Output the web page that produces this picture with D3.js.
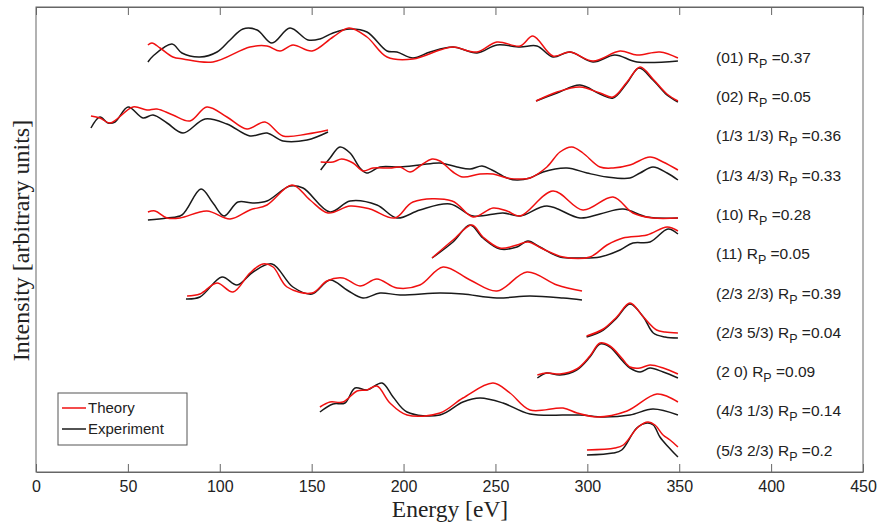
<!DOCTYPE html>
<html>
<head>
<meta charset="utf-8">
<script src="https://cdn.jsdelivr.net/npm/d3@7"></script>
<style>
  body { margin: 0; background: #fff; }
  svg { display: block; }
</style>
</head>
<body>
<svg id="chart" width="879" height="523"></svg>
<script>
// beam labels and R-factors, top to bottom
const beamLabels = ["(01)", "(02)", "(1/3 1/3)", "(1/3 4/3)", "(10)", "(11)",
  "(2/3 2/3)", "(2/3 5/3)", "(2 0)", "(4/3 1/3)", "(5/3 2/3)"];
const rpValues = ["0.37", "0.05", "0.36", "0.33", "0.28", "0.05", "0.39", "0.04", "0.09", "0.14", "0.2"];

const xTicks = [0, 50, 100, 150, 200, 250, 300, 350, 400, 450];

// [energy eV, intensity (arb. units, curves stacked)]
const ex01 = [[60.9,41.0],[63.7,41.6],[74.0,42.8],[79.4,41.9],[89.2,41.5],[98.5,42.0],[105.6,43.2],[112.6,44.3],[120.3,44.2],[128.4,42.9],[138.2,44.4],[148.0,43.2],[154.5,43.3],[161.6,43.9],[170.9,44.3],[180.1,44.0],[191.0,42.1],[196.4,42.0],[205.1,41.4],[214.4,42.0],[226.9,42.5],[240.0,41.9],[250.8,42.7],[263.4,42.5],[272.6,42.6],[281.3,41.5],[290.6,42.0],[303.1,41.0],[315.0,41.7],[327.0,41.0],[349.3,41.1]];
const th01 = [[60.9,42.7],[63.1,42.9],[67.5,42.4],[74.5,41.5],[80.0,41.3],[96.3,41.0],[116.4,42.5],[125.7,42.6],[132.8,42.1],[139.8,42.7],[150.2,42.1],[161.6,43.5],[170.3,44.4],[180.1,43.5],[191.0,41.5],[205.1,41.3],[219.8,42.2],[226.9,42.5],[240.0,42.0],[250.8,43.0],[263.4,42.6],[270.4,43.6],[281.3,41.6],[290.6,42.0],[303.1,41.1],[317.8,42.1],[327.0,41.7],[339.5,42.0],[349.3,41.4]];

const ex02 = [[272.1,37.1],[283.5,37.9],[296.0,38.7],[306.9,37.8],[314.0,37.4],[321.6,38.9],[328.1,40.4],[335.7,39.2],[343.3,37.7],[349.3,37.0]];
const th02 = [[272.1,37.1],[283.5,38.0],[296.0,38.5],[306.9,37.9],[314.0,37.5],[321.6,39.0],[328.7,40.5],[335.7,39.3],[343.3,37.8],[349.3,37.1]];

const ex1313 = [[29.9,34.4],[34.8,35.5],[39.2,34.9],[43.0,35.0],[50.1,36.5],[58.2,35.4],[63.7,35.7],[71.3,34.9],[80.0,33.9],[92.0,35.3],[103.9,34.8],[116.4,33.6],[125.7,33.9],[134.4,33.1],[147.5,33.2],[158.9,34.0]];
const th1313 = [[29.9,35.6],[34.8,35.4],[40.3,34.9],[52.8,36.5],[60.4,36.2],[65.8,36.3],[74.5,35.7],[83.8,35.1],[93.0,36.5],[103.9,35.5],[114.8,34.3],[124.6,35.0],[134.4,33.6],[147.5,33.8],[158.9,34.2]];

const ex1343 = [[154.9,30.2],[160.0,31.4],[165.4,32.5],[170.9,31.9],[176.3,30.4],[179.9,29.9],[187.2,30.5],[198.1,30.5],[208.9,30.7],[219.8,30.9],[229.1,30.5],[236.2,30.3],[242.7,30.6],[248.1,30.2],[256.3,29.4],[261.7,29.2],[268.8,29.4],[275.9,30.0],[288.9,30.4],[299.8,29.9],[310.7,29.5],[323.2,29.4],[328.7,29.9],[335.7,30.5],[343.4,29.9],[349.3,29.2]];
const th1343 = [[154.9,31.0],[161.6,31.0],[166.3,31.3],[172.5,30.9],[177.9,30.1],[183.4,30.4],[192.6,30.4],[198.1,30.5],[203.5,30.0],[208.9,30.6],[215.5,31.3],[219.8,31.1],[226.9,30.0],[232.3,29.5],[241.6,29.8],[248.7,29.8],[256.3,29.4],[263.4,29.3],[268.8,29.4],[278.0,30.5],[285.1,32.0],[291.6,32.5],[297.6,31.9],[306.9,30.5],[314.0,30.4],[323.2,30.7],[334.1,31.5],[341.2,31.0],[349.3,30.2]];

const ex10 = [[60.9,25.2],[71.3,25.4],[79.4,25.7],[89.8,28.3],[96.3,26.9],[102.3,25.6],[109.9,27.0],[118.1,26.9],[125.7,27.1],[138.2,28.6],[145.3,28.4],[160.0,26.0],[170.9,27.1],[185.5,26.7],[196.4,25.4],[208.9,26.2],[225.3,26.8],[237.8,25.6],[254.1,25.9],[263.4,25.6],[278.0,26.6],[296.0,25.4],[306.9,25.8],[319.4,26.3],[332.5,25.5],[349.3,25.4]];
const th10 = [[60.9,26.0],[64.8,26.1],[71.3,25.4],[78.3,25.4],[93.0,26.1],[105.6,25.3],[116.4,26.2],[125.7,26.7],[139.3,28.7],[149.1,27.2],[158.9,25.9],[170.9,26.6],[181.7,26.3],[195.3,25.4],[205.1,27.0],[226.4,27.1],[237.8,25.5],[248.7,26.4],[256.3,26.1],[263.4,25.6],[281.3,28.1],[297.6,26.2],[314.0,27.5],[324.8,25.9],[335.7,25.4],[349.3,25.4]];

const ex11 = [[215.5,21.4],[226.9,23.0],[236.2,24.7],[243.2,23.4],[252.5,22.3],[261.7,22.5],[267.7,23.1],[274.2,22.5],[285.1,21.5],[296.0,21.4],[306.9,21.5],[317.8,22.2],[324.8,22.9],[334.1,23.0],[343.9,24.3],[349.3,23.8]];
const th11 = [[215.5,21.4],[226.9,23.2],[237.2,24.7],[243.2,23.5],[252.5,22.4],[261.7,22.7],[267.7,23.0],[275.9,22.3],[286.8,21.5],[301.4,21.5],[310.7,22.7],[319.4,23.4],[332.5,23.7],[343.4,24.5],[349.3,24.1]];

const ex2323 = [[81.6,17.3],[89.2,17.5],[101.2,19.5],[109.4,18.7],[118.1,20.0],[128.4,20.8],[139.8,18.5],[150.2,17.8],[160.0,19.2],[169.2,18.2],[177.9,17.4],[187.2,17.9],[198.1,17.7],[219.8,17.9],[232.3,17.8],[250.8,17.4],[268.8,17.6],[286.8,17.4],[297.1,17.2]];
const th2323 = [[82.2,17.6],[89.2,17.8],[98.5,18.9],[107.2,18.0],[116.4,19.9],[123.5,20.8],[129.0,20.5],[136.6,18.5],[150.2,17.9],[158.3,19.1],[167.0,19.4],[176.3,18.6],[185.5,19.3],[196.4,18.4],[208.9,18.7],[221.5,20.5],[236.2,19.2],[250.8,18.1],[267.2,20.0],[283.5,18.7],[297.1,18.1]];

const ex2353 = [[299.6,13.5],[308.7,14.2],[316.0,15.4],[323.2,16.8],[330.5,15.5],[335.9,13.9],[342.3,13.5],[349.3,13.4]];
const th2353 = [[299.6,13.6],[308.7,14.3],[316.0,15.5],[323.2,16.9],[330.5,15.5],[337.7,14.2],[342.3,14.0],[349.3,13.9]];

const ex20 = [[272.8,9.4],[277.9,9.9],[285.1,9.7],[294.2,10.2],[301.4,11.5],[306.9,12.8],[312.3,12.5],[318.7,11.2],[323.2,10.4],[328.7,10.0],[334.1,10.4],[341.3,10.0],[349.3,9.4]];
const th20 = [[272.8,9.7],[277.9,9.9],[285.1,9.8],[294.2,10.3],[301.4,11.6],[306.9,12.9],[312.3,12.6],[318.7,11.4],[323.2,10.5],[328.7,10.4],[334.1,10.7],[341.3,10.4],[349.3,9.8]];

const ex4313 = [[154.5,6.0],[161.6,6.8],[168.1,6.9],[173.6,8.4],[180.1,8.2],[188.3,8.9],[194.3,7.5],[201.9,6.0],[219.8,5.7],[232.3,7.0],[241.6,7.4],[254.1,6.9],[268.8,5.8],[296.0,5.7],[308.5,5.5],[323.2,5.7],[335.7,6.3],[349.3,5.7]];
const th4313 = [[154.5,6.5],[160.0,7.0],[167.0,7.0],[174.7,8.1],[180.1,8.2],[185.5,8.6],[192.6,6.9],[201.9,5.7],[219.8,5.9],[232.3,7.4],[248.7,8.9],[257.9,7.9],[268.8,6.2],[286.8,6.4],[294.4,5.9],[305.3,5.5],[321.6,6.1],[337.9,7.8],[349.3,7.0]];

const ex5323 = [[299.8,1.7],[314.0,1.9],[318.7,2.2],[326.9,4.4],[332.5,4.9],[335.9,4.7],[339.5,3.5],[344.1,2.5],[349.3,1.5]];
const th5323 = [[299.8,2.2],[315.0,2.4],[319.6,2.7],[327.7,4.5],[333.0,5.0],[336.8,4.7],[341.2,3.7],[345.0,3.2],[349.3,2.5]];

const theory = [th01, th02, th1313, th1343, th10, th11, th2323, th2353, th20, th4313, th5323];
const experiment = [ex01, ex02, ex1313, ex1343, ex10, ex11, ex2323, ex2353, ex20, ex4313, ex5323];

const svg = d3.select("#chart");
const plotLeft = 36, plotRight = 863, plotTop = 7, plotBottom = 472;

const x = d3.scaleLinear().domain([0, 450]).range([plotLeft, plotRight]);
const y = d3.scaleLinear().domain([0, 46.5]).range([plotBottom, plotTop]);
// label rows, evenly spaced
const labelY = d3.scalePoint().domain(beamLabels).range([62.7, 455.7]);

const sans = "'Liberation Sans', Arial, sans-serif";
const serif = "'Liberation Serif', 'Times New Roman', serif";

// frame
svg.append("rect")
  .attr("x", plotLeft).attr("y", plotTop)
  .attr("width", plotRight - plotLeft).attr("height", plotBottom - plotTop)
  .attr("fill", "none").attr("stroke", "#666").attr("stroke-width", 1);

// bottom axis, ticks pointing inward
const xAxis = svg.append("g")
  .attr("transform", "translate(0," + plotBottom + ")")
  .call(d3.axisBottom(x).tickValues(xTicks).tickSizeInner(-8).tickSizeOuter(0).tickPadding(9));
xAxis.select(".domain").attr("stroke", "#666");
xAxis.selectAll(".tick line").attr("stroke", "#666");
xAxis.selectAll(".tick text")
  .attr("font-family", sans).attr("font-size", 16).attr("fill", "#222");

// top axis, ticks only
const xTop = svg.append("g")
  .attr("transform", "translate(0," + plotTop + ")")
  .call(d3.axisTop(x).tickValues(xTicks).tickSizeInner(-8).tickSizeOuter(0).tickFormat(""));
xTop.select(".domain").attr("stroke", "#666");
xTop.selectAll(".tick line").attr("stroke", "#666");

// axis titles
svg.append("text")
  .attr("x", 450).attr("y", 517)
  .attr("text-anchor", "middle")
  .attr("font-family", serif).attr("font-size", 23.5).attr("fill", "#222")
  .text("Energy [eV]");

svg.append("text")
  .attr("transform", "translate(29," + ((plotTop + plotBottom) / 2 + 1) + ") rotate(-90)")
  .attr("text-anchor", "middle")
  .attr("font-family", serif).attr("font-size", 24).attr("fill", "#222")
  .text("Intensity [arbitrary units]");

// curves
const line = d3.line()
  .x(d => x(d[0]))
  .y(d => y(d[1]))
  .curve(d3.curveCatmullRom.alpha(0.5));

svg.append("g").selectAll("path.exp")
  .data(experiment)
  .join("path")
  .attr("class", "exp")
  .attr("d", line)
  .attr("fill", "none").attr("stroke", "#1a1a1a").attr("stroke-width", 1.5);

svg.append("g").selectAll("path.th")
  .data(theory)
  .join("path")
  .attr("class", "th")
  .attr("d", line)
  .attr("fill", "none").attr("stroke", "#f01010").attr("stroke-width", 1.5);

// beam labels with R_P
const labels = svg.append("g").selectAll("text")
  .data(beamLabels)
  .join("text")
  .attr("x", x(370))
  .attr("y", d => labelY(d))
  .attr("font-family", sans).attr("font-size", 15.5).attr("fill", "#222");
labels.append("tspan").text(d => d + " R");
labels.append("tspan").attr("dy", 5).attr("font-size", 12.5).text("P");
labels.append("tspan").attr("dy", -5).text((d, i) => " =" + rpValues[i]);

// legend
const legend = svg.append("g");
legend.append("rect")
  .attr("x", 58).attr("y", 393).attr("width", 129).attr("height", 52)
  .attr("fill", "#fff").attr("stroke", "#555").attr("stroke-width", 1);
const legendItems = [["Theory", "#f01010"], ["Experiment", "#1a1a1a"]];
legendItems.forEach((item, i) => {
  const ly = 408 + i * 21;
  legend.append("line")
    .attr("x1", 62).attr("x2", 86).attr("y1", ly).attr("y2", ly)
    .attr("stroke", item[1]).attr("stroke-width", 1.5);
  legend.append("text")
    .attr("x", 88).attr("y", ly + 5)
    .attr("font-family", sans).attr("font-size", 15).attr("fill", "#222")
    .text(item[0]);
});
</script>
</body>
</html>
